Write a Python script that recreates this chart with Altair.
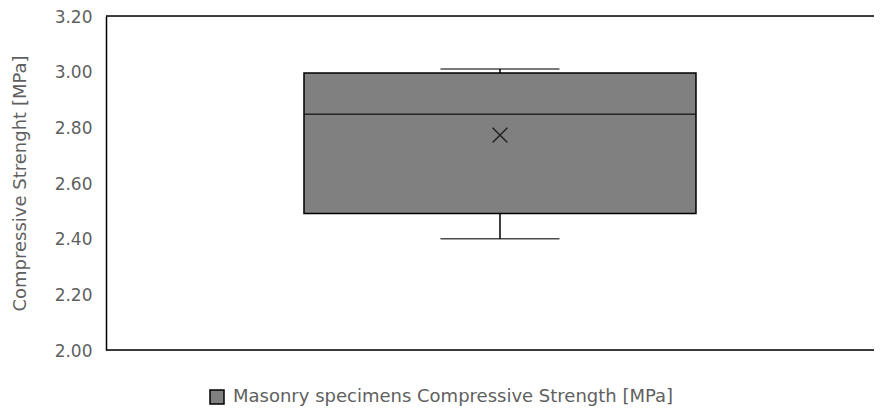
import altair as alt
import pandas as pd

series = ["Masonry specimens Compressive Strength [MPa]"]
whisker_low = [2.40]
q1 = [2.49]
median = [2.847]
q3 = [2.995]
whisker_high = [3.01]
mean = [2.772]
y_ticks = [2.0, 2.2, 2.4, 2.6, 2.8, 3.0, 3.2]
frame_lines = [2.0, 3.2]

df = pd.DataFrame({
    "series": series, "lo": whisker_low, "q1": q1, "med": median,
    "q3": q3, "hi": whisker_high, "mean": mean,
})
frame = pd.DataFrame({"v": frame_lines})

FONT = "DejaVu Sans"
GRAY = "#5f5f5f"
FS = 18

yscale = alt.Scale(domain=[2.0, 3.2], nice=False, zero=False)
yaxis = alt.Axis(values=y_ticks, format=".2f", grid=False, ticks=False,
                 domainColor="black", domainWidth=1.5, labelFontSize=17,
                 labelColor=GRAY, labelFont=FONT, labelPadding=14,
                 labelOffset=1,
                 title="Compressive Strenght [MPa]", titleFont=FONT,
                 titleFontSize=FS, titleFontWeight="normal", titleColor=GRAY,
                 titlePadding=25)
xenc = alt.X("series:N", axis=None,
             scale=alt.Scale(paddingInner=0.5, paddingOuter=0.25, align=0.526))

base = alt.Chart(df)

whisker = base.mark_rule(color="black", strokeWidth=1.5).encode(
    x=xenc,
    y=alt.Y("lo:Q", scale=yscale, axis=yaxis),
    y2="hi:Q",
)

box = base.mark_bar(size=392, stroke="black", strokeWidth=1.5).encode(
    x=xenc,
    y=alt.Y("q1:Q", scale=yscale),
    y2="q3:Q",
    color=alt.Color("series:N", scale=alt.Scale(range=["#808080"]),
                    legend=alt.Legend(orient="none", legendX=102, legendY=372,
                                      title=None, direction="horizontal",
                                      symbolType="square", symbolSize=196,
                                      symbolStrokeColor="black",
                                      symbolStrokeWidth=1.5,
                                      labelFont=FONT, labelFontSize=FS,
                                      labelColor=GRAY, labelLimit=0,
                                      labelOffset=7, padding=0)),
)

med = base.mark_tick(size=392, thickness=1.5, color="black").encode(
    x=xenc, y=alt.Y("med:Q", scale=yscale))

caps_lo = base.mark_tick(size=119, thickness=1.5, color="black").encode(
    x=xenc, y=alt.Y("lo:Q", scale=yscale))
caps_hi = base.mark_tick(size=119, thickness=1.5, color="black").encode(
    x=xenc, y=alt.Y("hi:Q", scale=yscale))

mean_pt = base.mark_point(shape="M-1,-1L1,1M-1,1L1,-1", size=220, filled=False,
                          color="#222222", strokeWidth=1.5, opacity=1).encode(
    x=xenc, y=alt.Y("mean:Q", scale=yscale))

frame_rules = alt.Chart(frame).mark_rule(color="black", strokeWidth=1.5).encode(
    y=alt.Y("v:Q", scale=yscale))

chart = alt.layer(whisker, box, med, caps_lo, caps_hi, mean_pt, frame_rules).properties(
    width=768, height=334,
    autosize=alt.AutoSizeParams(type="none"),
    padding={"left": 98, "top": 8, "right": 0, "bottom": 58},
).configure_view(stroke=None).configure(background="white")

chart.save("out.html", embed_options={"renderer": "svg", "actions": False})
